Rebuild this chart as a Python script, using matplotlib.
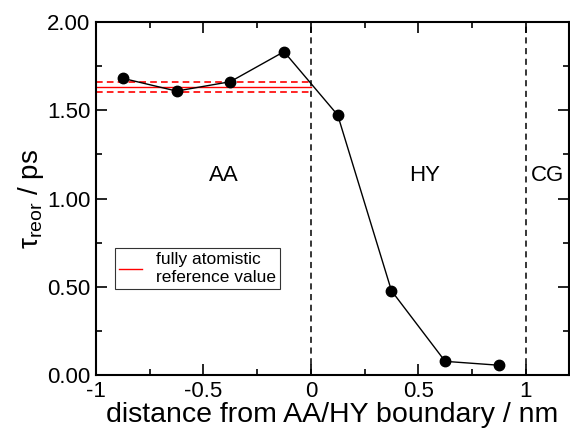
import matplotlib
matplotlib.use("Agg")
import matplotlib.pyplot as plt
from matplotlib.ticker import MultipleLocator, FormatStrFormatter

plt.rcParams['font.family'] = ['Liberation Sans', 'DejaVu Sans']
plt.rcParams['mathtext.fontset'] = 'custom'
plt.rcParams['mathtext.rm'] = 'Liberation Sans'
plt.rcParams['mathtext.it'] = 'Liberation Sans:italic'

# reorientation time per slab across the AA/HY/CG regions
distance = [-0.875, -0.625, -0.375, -0.125, 0.125, 0.375, 0.625, 0.875]
tau_reor = [1.681, 1.609, 1.662, 1.832, 1.473, 0.479, 0.079, 0.057]

# fully atomistic reference value with its error band
ref_value = 1.630
ref_lower = 1.606
ref_upper = 1.659
ref_span = [-1.0, 0.0]

boundaries = [0.0, 1.0]
region_labels = ["AA", "HY", "CG"]
region_x = [-0.405, 0.528, 1.10]
region_y = 1.13

fig = plt.figure(figsize=(5.7, 4.28), dpi=100)
ax = fig.add_axes([96 / 570, 1 - 375.3 / 428, (568.7 - 96) / 570, (375.3 - 22) / 428])

ax.plot(ref_span, [ref_value] * 2, color='red', lw=1.0, label='fully atomistic\nreference value')
ax.plot(ref_span, [ref_lower] * 2, color='red', lw=1.2, ls=(0, (4, 2.5)))
ax.plot(ref_span, [ref_upper] * 2, color='red', lw=1.2, ls=(0, (4, 2.5)))

for b in boundaries:
    ax.axvline(b, color='black', lw=1.1, ls=(0, (4, 3)))

ax.plot(distance, tau_reor, color='black', lw=1.0, marker='o', ms=7.5)

for lab, xx in zip(region_labels, region_x):
    ax.text(xx, region_y, lab, ha='center', va='center', fontsize=16)

ax.set_xlim(-1, 1.2)
ax.set_ylim(0, 2)
ax.xaxis.set_major_locator(MultipleLocator(0.5))
ax.xaxis.set_minor_locator(MultipleLocator(0.25))
ax.yaxis.set_major_locator(MultipleLocator(0.5))
ax.yaxis.set_minor_locator(MultipleLocator(0.25))
ax.yaxis.set_major_formatter(FormatStrFormatter('%.2f'))
ax.set_xticks([-1, -0.5, 0, 0.5, 1])
ax.set_xticklabels(['-1', '-0.5', '0', '0.5', '1'])
ax.tick_params(which='both', direction='in', top=True, right=True, width=1.2)
ax.tick_params(which='major', length=8, labelsize=16)
ax.tick_params(which='minor', length=4)
ax.tick_params(axis='x', pad=4)
ax.tick_params(axis='y', pad=4)
for s in ax.spines.values():
    s.set_linewidth(1.5)

ax.set_xlabel('distance from AA/HY boundary / nm', fontsize=20.5, labelpad=0)
ax.set_ylabel(r'$\mathrm{τ_{reor}}$ / ps', fontsize=20, labelpad=1)

leg = ax.legend(loc='upper left', bbox_to_anchor=(0.04, 0.36), fontsize=12.5,
                frameon=True, fancybox=False, edgecolor='black', handlelength=1.3,
                borderpad=0.25, labelspacing=0.0, handletextpad=0.8, borderaxespad=0)
leg.get_frame().set_linewidth(0.8)

fig.savefig('out.png', dpi=100)
